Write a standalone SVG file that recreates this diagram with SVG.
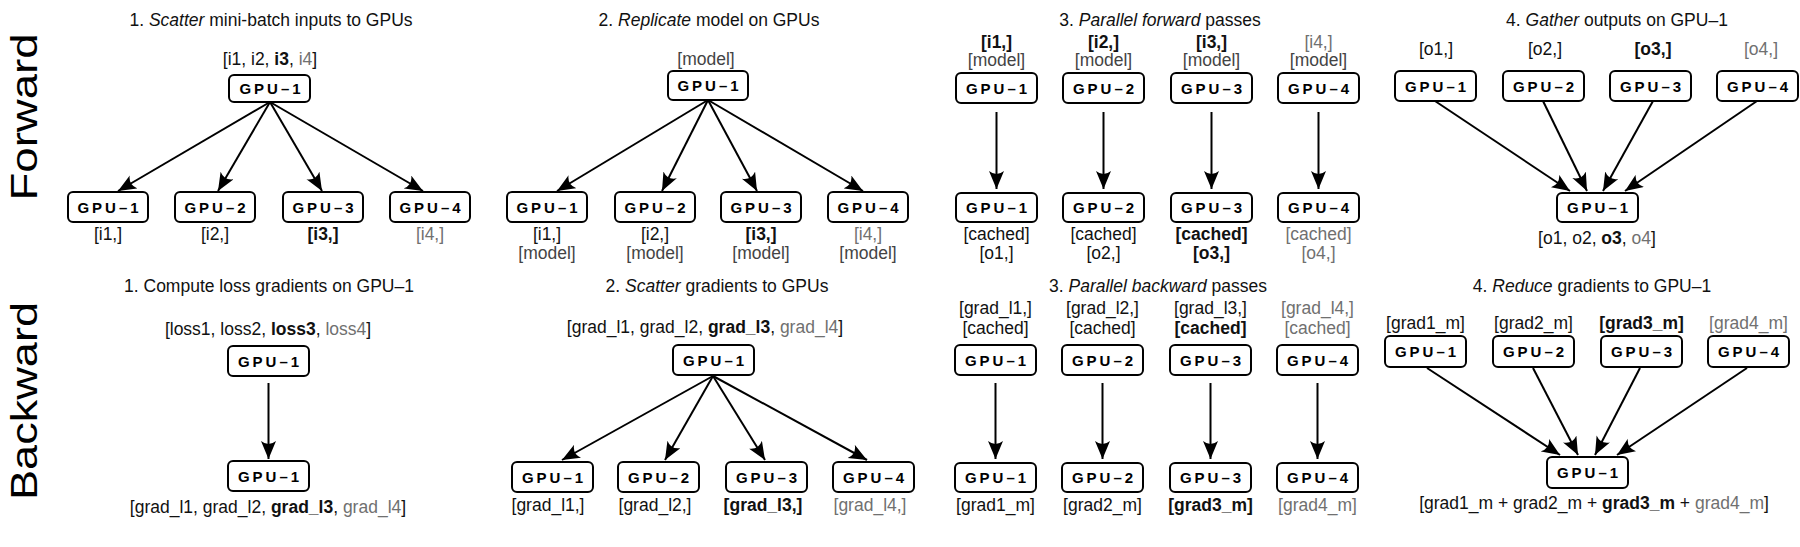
<svg xmlns="http://www.w3.org/2000/svg" width="1800" height="547" viewBox="0 0 1800 547">
<style>
text{font-family:"Liberation Sans",Arial,sans-serif;text-anchor:middle;fill:#111}
.ttl{font-size:17.5px}
.lbl{font-size:17.5px}
.gpu{font-size:15px;font-weight:bold;letter-spacing:3px;fill:#000}
.row{font-size:37px;fill:#000}
.b{font-weight:bold}
.lt{fill:#707070}
.m{fill:#444}
.n rect{fill:#fff;stroke:#000;stroke-width:2}
.edges line{stroke:#000;stroke-width:2;marker-end:url(#ah)}
</style>
<defs>
<marker id="ah" markerUnits="userSpaceOnUse" markerWidth="19" markerHeight="16" refX="18" refY="7.5" orient="auto">
<path d="M0,0 L18,7.5 L0,15 Q6,7.5 0,0 z" fill="#000"/>
</marker>
</defs>
<rect width="1800" height="547" fill="#fff"/>

<!-- row labels -->
<text class="row" transform="translate(37,117) rotate(-90)" textLength="167" lengthAdjust="spacingAndGlyphs">Forward</text>
<text class="row" transform="translate(37,401) rotate(-90)" textLength="198" lengthAdjust="spacingAndGlyphs">Backward</text>

<!-- titles -->
<text class="ttl" x="271" y="26">1. <tspan font-style="italic">Scatter</tspan> mini-batch inputs to GPUs</text>
<text class="ttl" x="709" y="26">2. <tspan font-style="italic">Replicate</tspan> model on GPUs</text>
<text class="ttl" x="1160" y="26">3. <tspan font-style="italic">Parallel forward</tspan> passes</text>
<text class="ttl" x="1617" y="26">4. <tspan font-style="italic">Gather</tspan> outputs on GPU–1</text>
<text class="ttl" x="269" y="292">1. Compute loss gradients on GPU–1</text>
<text class="ttl" x="717" y="292">2. <tspan font-style="italic">Scatter</tspan> gradients to GPUs</text>
<text class="ttl" x="1158" y="292">3. <tspan font-style="italic">Parallel backward</tspan> passes</text>
<text class="ttl" x="1592" y="292">4. <tspan font-style="italic">Reduce</tspan> gradients to GPU–1</text>

<!-- connectors -->
<g id="connectors" class="edges">
<line x1="270" y1="102" x2="118" y2="191"/>
<line x1="270" y1="102" x2="218" y2="191"/>
<line x1="270" y1="102" x2="322" y2="191"/>
<line x1="270" y1="102" x2="423" y2="191"/>

<line x1="708" y1="100" x2="557" y2="191"/>
<line x1="708" y1="100" x2="662" y2="191"/>
<line x1="708" y1="100" x2="757" y2="191"/>
<line x1="708" y1="100" x2="863" y2="191"/>

<line x1="996.5" y1="112" x2="996.5" y2="189"/>
<line x1="1103.5" y1="112" x2="1103.5" y2="189"/>
<line x1="1211.5" y1="112" x2="1211.5" y2="189"/>
<line x1="1318.5" y1="112" x2="1318.5" y2="189"/>

<line x1="1435" y1="101" x2="1570" y2="191"/>
<line x1="1543" y1="101" x2="1587" y2="191"/>
<line x1="1653" y1="101" x2="1603" y2="191"/>
<line x1="1757" y1="101" x2="1625" y2="191"/>

<line x1="268.5" y1="383" x2="268.5" y2="459"/>

<line x1="713" y1="376" x2="562" y2="460"/>
<line x1="713" y1="376" x2="665" y2="460"/>
<line x1="713" y1="376" x2="765" y2="460"/>
<line x1="713" y1="376" x2="867" y2="460"/>

<line x1="995.5" y1="383" x2="995.5" y2="459"/>
<line x1="1102.5" y1="383" x2="1102.5" y2="459"/>
<line x1="1210.5" y1="383" x2="1210.5" y2="459"/>
<line x1="1317.5" y1="383" x2="1317.5" y2="459"/>

<line x1="1427" y1="368" x2="1560" y2="455"/>
<line x1="1533" y1="368" x2="1578" y2="455"/>
<line x1="1640" y1="368" x2="1595" y2="455"/>
<line x1="1747" y1="368" x2="1617" y2="455"/>
</g>

<!-- Forward 1: scatter -->
<g id="f1-src" class="n"><text class="lbl" x="270" y="65">[i1, i2, <tspan class="b">i3</tspan>, <tspan class="lt">i4</tspan>]</text><rect x="229" y="75" width="81" height="27" rx="5"/><text class="gpu" x="271.5" y="94">GPU–1</text></g>
<g id="f1-gpu1" class="n"><rect x="68" y="192" width="80" height="30" rx="5"/><text class="gpu" x="109.5" y="212.5">GPU–1</text><text class="lbl" x="108" y="239.5">[i1,]</text></g>
<g id="f1-gpu2" class="n"><rect x="175" y="192" width="80" height="30" rx="5"/><text class="gpu" x="216.5" y="212.5">GPU–2</text><text class="lbl" x="215" y="239.5">[i2,]</text></g>
<g id="f1-gpu3" class="n"><rect x="283" y="192" width="80" height="30" rx="5"/><text class="gpu" x="324.5" y="212.5">GPU–3</text><text class="lbl b" x="323" y="239.5">[i3,]</text></g>
<g id="f1-gpu4" class="n"><rect x="390" y="192" width="80" height="30" rx="5"/><text class="gpu" x="431.5" y="212.5">GPU–4</text><text class="lbl lt" x="430" y="239.5">[i4,]</text></g>

<!-- Forward 2: replicate -->
<g id="f2-src" class="n"><text class="lbl m" x="706" y="65">[model]</text><rect x="668" y="71" width="80" height="29" rx="5"/><text class="gpu" x="709.5" y="91">GPU–1</text></g>
<g id="f2-gpu1" class="n"><rect x="507" y="192" width="80" height="30" rx="5"/><text class="gpu" x="548.5" y="212.5">GPU–1</text><text class="lbl" x="547" y="240">[i1,]</text><text class="lbl m" x="547" y="258.5">[model]</text></g>
<g id="f2-gpu2" class="n"><rect x="615" y="192" width="80" height="30" rx="5"/><text class="gpu" x="656.5" y="212.5">GPU–2</text><text class="lbl" x="655" y="240">[i2,]</text><text class="lbl m" x="655" y="258.5">[model]</text></g>
<g id="f2-gpu3" class="n"><rect x="721" y="192" width="80" height="30" rx="5"/><text class="gpu" x="762.5" y="212.5">GPU–3</text><text class="lbl b" x="761" y="240">[i3,]</text><text class="lbl m" x="761" y="258.5">[model]</text></g>
<g id="f2-gpu4" class="n"><rect x="828" y="192" width="80" height="30" rx="5"/><text class="gpu" x="869.5" y="212.5">GPU–4</text><text class="lbl lt" x="868" y="240">[i4,]</text><text class="lbl m" x="868" y="258.5">[model]</text></g>

<!-- Forward 3: parallel forward -->
<g id="f3-in1" class="n"><text class="lbl b" x="996.5" y="47.5">[i1,]</text><text class="lbl m" x="996.5" y="65.5">[model]</text><rect x="956" y="73" width="81" height="30" rx="5"/><text class="gpu" x="998" y="93.5">GPU–1</text></g>
<g id="f3-in2" class="n"><text class="lbl b" x="1103.5" y="47.5">[i2,]</text><text class="lbl m" x="1103.5" y="65.5">[model]</text><rect x="1063" y="73" width="81" height="30" rx="5"/><text class="gpu" x="1105" y="93.5">GPU–2</text></g>
<g id="f3-in3" class="n"><text class="lbl b" x="1211.5" y="47.5">[i3,]</text><text class="lbl m" x="1211.5" y="65.5">[model]</text><rect x="1171" y="73" width="81" height="30" rx="5"/><text class="gpu" x="1213" y="93.5">GPU–3</text></g>
<g id="f3-in4" class="n"><text class="lbl lt" x="1318.5" y="47.5">[i4,]</text><text class="lbl m" x="1318.5" y="65.5">[model]</text><rect x="1278" y="73" width="81" height="30" rx="5"/><text class="gpu" x="1320" y="93.5">GPU–4</text></g>
<g id="f3-out1" class="n"><rect x="956" y="193" width="81" height="29" rx="5"/><text class="gpu" x="998" y="213">GPU–1</text><text class="lbl" x="996.5" y="240">[cached]</text><text class="lbl" x="996.5" y="258.5">[o1,]</text></g>
<g id="f3-out2" class="n"><rect x="1063" y="193" width="81" height="29" rx="5"/><text class="gpu" x="1105" y="213">GPU–2</text><text class="lbl" x="1103.5" y="240">[cached]</text><text class="lbl" x="1103.5" y="258.5">[o2,]</text></g>
<g id="f3-out3" class="n"><rect x="1171" y="193" width="81" height="29" rx="5"/><text class="gpu" x="1213" y="213">GPU–3</text><text class="lbl b" x="1211.5" y="240">[cached]</text><text class="lbl b" x="1211.5" y="258.5">[o3,]</text></g>
<g id="f3-out4" class="n"><rect x="1278" y="193" width="81" height="29" rx="5"/><text class="gpu" x="1320" y="213">GPU–4</text><text class="lbl lt" x="1318.5" y="240">[cached]</text><text class="lbl lt" x="1318.5" y="258.5">[o4,]</text></g>

<!-- Forward 4: gather -->
<g id="f4-gpu1" class="n"><text class="lbl" x="1436" y="55">[o1,]</text><rect x="1395" y="71" width="81" height="30" rx="5"/><text class="gpu" x="1437" y="91.5">GPU–1</text></g>
<g id="f4-gpu2" class="n"><text class="lbl" x="1545" y="55">[o2,]</text><rect x="1503" y="71" width="81" height="30" rx="5"/><text class="gpu" x="1545" y="91.5">GPU–2</text></g>
<g id="f4-gpu3" class="n"><text class="lbl b" x="1653" y="55">[o3,]</text><rect x="1610" y="71" width="81" height="30" rx="5"/><text class="gpu" x="1652" y="91.5">GPU–3</text></g>
<g id="f4-gpu4" class="n"><text class="lbl lt" x="1761" y="55">[o4,]</text><rect x="1717" y="71" width="81" height="30" rx="5"/><text class="gpu" x="1759" y="91.5">GPU–4</text></g>
<g id="f4-dst" class="n"><rect x="1557" y="193" width="81" height="29" rx="5"/><text class="gpu" x="1599" y="213">GPU–1</text><text class="lbl" x="1597" y="243.5">[o1, o2, <tspan class="b">o3</tspan>, <tspan class="lt">o4</tspan>]</text></g>

<!-- Backward 1: loss gradients -->
<g id="b1-loss" class="n"><text class="lbl" x="268" y="334.5">[loss1, loss2, <tspan class="b">loss3</tspan>, <tspan class="lt">loss4</tspan>]</text><rect x="228" y="346" width="81" height="30" rx="5"/><text class="gpu" x="270" y="366.5">GPU–1</text></g>
<g id="b1-grad" class="n"><rect x="228" y="461" width="81" height="30" rx="5"/><text class="gpu" x="270" y="481.5">GPU–1</text><text class="lbl" x="268" y="512.5">[grad_l1, grad_l2, <tspan class="b">grad_l3</tspan>, <tspan class="lt">grad_l4</tspan>]</text></g>

<!-- Backward 2: scatter gradients -->
<g id="b2-src" class="n"><text class="lbl" x="705" y="333">[grad_l1, grad_l2, <tspan class="b">grad_l3</tspan>, <tspan class="lt">grad_l4</tspan>]</text><rect x="673" y="345" width="81" height="30" rx="5"/><text class="gpu" x="715" y="365.5">GPU–1</text></g>
<g id="b2-gpu1" class="n"><rect x="512" y="462" width="81" height="30" rx="5"/><text class="gpu" x="554" y="482.5">GPU–1</text><text class="lbl" x="548" y="511">[grad_l1,]</text></g>
<g id="b2-gpu2" class="n"><rect x="618" y="462" width="81" height="30" rx="5"/><text class="gpu" x="660" y="482.5">GPU–2</text><text class="lbl" x="655" y="511">[grad_l2,]</text></g>
<g id="b2-gpu3" class="n"><rect x="726" y="462" width="81" height="30" rx="5"/><text class="gpu" x="768" y="482.5">GPU–3</text><text class="lbl b" x="763" y="511">[grad_l3,]</text></g>
<g id="b2-gpu4" class="n"><rect x="833" y="462" width="81" height="30" rx="5"/><text class="gpu" x="875" y="482.5">GPU–4</text><text class="lbl lt" x="870" y="511">[grad_l4,]</text></g>

<!-- Backward 3: parallel backward -->
<g id="b3-in1" class="n"><text class="lbl" x="995.5" y="313.5">[grad_l1,]</text><text class="lbl" x="995.5" y="333.5">[cached]</text><rect x="955" y="345" width="81" height="30" rx="5"/><text class="gpu" x="997" y="365.5">GPU–1</text></g>
<g id="b3-in2" class="n"><text class="lbl" x="1102.5" y="313.5">[grad_l2,]</text><text class="lbl" x="1102.5" y="333.5">[cached]</text><rect x="1062" y="345" width="81" height="30" rx="5"/><text class="gpu" x="1104" y="365.5">GPU–2</text></g>
<g id="b3-in3" class="n"><text class="lbl" x="1210.5" y="313.5">[grad_l3,]</text><text class="lbl b" x="1210.5" y="333.5">[cached]</text><rect x="1170" y="345" width="81" height="30" rx="5"/><text class="gpu" x="1212" y="365.5">GPU–3</text></g>
<g id="b3-in4" class="n"><text class="lbl lt" x="1317.5" y="313.5">[grad_l4,]</text><text class="lbl lt" x="1317.5" y="333.5">[cached]</text><rect x="1277" y="345" width="81" height="30" rx="5"/><text class="gpu" x="1319" y="365.5">GPU–4</text></g>
<g id="b3-out1" class="n"><rect x="955" y="463" width="81" height="29" rx="5"/><text class="gpu" x="997" y="483">GPU–1</text><text class="lbl" x="995.5" y="511">[grad1_m]</text></g>
<g id="b3-out2" class="n"><rect x="1062" y="463" width="81" height="29" rx="5"/><text class="gpu" x="1104" y="483">GPU–2</text><text class="lbl" x="1102.5" y="511">[grad2_m]</text></g>
<g id="b3-out3" class="n"><rect x="1170" y="463" width="81" height="29" rx="5"/><text class="gpu" x="1212" y="483">GPU–3</text><text class="lbl b" x="1210.5" y="511">[grad3_m]</text></g>
<g id="b3-out4" class="n"><rect x="1277" y="463" width="81" height="29" rx="5"/><text class="gpu" x="1319" y="483">GPU–4</text><text class="lbl lt" x="1317.5" y="511">[grad4_m]</text></g>

<!-- Backward 4: reduce -->
<g id="b4-gpu1" class="n"><text class="lbl" x="1425.5" y="328.5">[grad1_m]</text><rect x="1385" y="336" width="81" height="31" rx="5"/><text class="gpu" x="1427" y="357">GPU–1</text></g>
<g id="b4-gpu2" class="n"><text class="lbl" x="1533.5" y="328.5">[grad2_m]</text><rect x="1493" y="336" width="81" height="31" rx="5"/><text class="gpu" x="1535" y="357">GPU–2</text></g>
<g id="b4-gpu3" class="n"><text class="lbl b" x="1641.5" y="328.5">[grad3_m]</text><rect x="1601" y="336" width="81" height="31" rx="5"/><text class="gpu" x="1643" y="357">GPU–3</text></g>
<g id="b4-gpu4" class="n"><text class="lbl lt" x="1748.5" y="328.5">[grad4_m]</text><rect x="1708" y="336" width="81" height="31" rx="5"/><text class="gpu" x="1750" y="357">GPU–4</text></g>
<g id="b4-dst" class="n"><rect x="1547" y="457" width="81" height="31" rx="5"/><text class="gpu" x="1589" y="478">GPU–1</text><text class="lbl" x="1594" y="508.5">[grad1_m + grad2_m + <tspan class="b">grad3_m</tspan> + <tspan class="lt">grad4_m</tspan>]</text></g>
</svg>
